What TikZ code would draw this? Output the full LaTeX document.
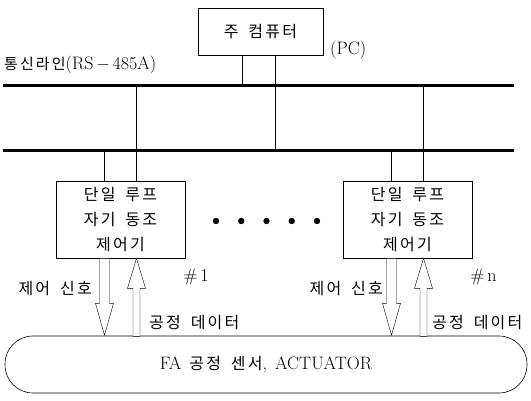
\documentclass[tikz,border=0pt]{standalone}
\usepackage{fontspec}
\newfontfamily\kr[LetterSpace=14, WordSpace=1.7]{Noto Sans CJK KR}
\usetikzlibrary{calc}

\begin{document}
\begin{tikzpicture}[x=1pt,y=-1pt,
        every node/.style={font=\fontsize{18}{22}\selectfont},
        caja/.style={draw, semithick, inner sep=0pt, align=center},
        bus/.style={line width=3pt},
        hueco/.style={draw, fill=white, line join=miter},
        etiq/.style={font=\kr\fontsize{16}{25}\selectfont}]
        % Marco de la figura
        \useasboundingbox (0,0) rectangle (531,400);

        % Computadora principal
        \node[caja, etiq, minimum width=125pt, minimum height=47pt] (pc) at (260.5,31.5) {주 컴퓨터};
        \node[anchor=west, inner sep=0pt] (pclab) at (330,50) {(PC)};

        % Lineas de comunicacion (bus)
        \coordinate (b1w) at (3,85);
        \coordinate (b1e) at (514,85);
        \coordinate (b2w) at (3,150);
        \coordinate (b2e) at (514,150);
        \draw[bus] (b1w) -- (b1e);
        \draw[bus] (b2w) -- (b2e);
        \node[anchor=base west, inner sep=0pt] (buslab) at (4,69) {{\kr\fontsize{15}{15}\selectfont 통신라인}(RS$\,-\,$485A)};

        % Conexiones del PC
        \draw ([xshift=-18.5pt]pc.south) -- ([xshift=-18.5pt]pc.south |- b1w);
        \draw ([xshift=14.5pt]pc.south) -- ([xshift=14.5pt]pc.south |- b2w);

        % Sensores y actuadores
        \node[draw, semithick, rounded corners=28pt, minimum width=522pt, minimum height=57pt, inner sep=0pt] (fa) at (266,364.5)
            {FA\hspace{8pt}{\kr\fontsize{16}{16}\selectfont 공정 센서},\hspace{8pt}ACTUATOR};

        % Controladores
        \foreach \i/\x/\n/\d in {1/120.5/1/-28.5, 2/407.5/n/-24.5} {
            \node[caja, etiq, minimum width=129pt, minimum height=77pt] (ctl\i) at (\x,219.5) {단일 루프\\자기 동조\\제어기};
            \draw ([xshift=-16pt]ctl\i.north) -- ([xshift=-16pt]ctl\i.north |- b2w);
            \draw ([xshift=16pt]ctl\i.north) -- ([xshift=16pt]ctl\i.north |- b1w);
            % Flechas huecas
            \draw[hueco] ([xshift=-21pt]ctl\i.south) -- ++(0,45) -- ++(-4,0) -- ++(9,32) -- ++(9,-32) -- ++(-4,0) -- ++(0,-45) -- cycle;
            \draw[hueco] ([xshift=16pt]ctl\i.south) -- ++(9,30) -- ++(-5.5,0) -- ++(0,48) -- ++(-7,0) -- ++(0,-48) -- ++(-5.5,0) -- cycle;
            % Etiquetas
            \node[etiq, anchor=east, inner sep=0pt] (sig\i) at ($(ctl\i.south)+(\d,30)$) {제어 신호};
            \node[anchor=west, inner sep=0pt] (num\i) at ($(ctl\i.south east)+(-2,19)$) {\#\,\n};
            \node[etiq, anchor=west, inner sep=0pt] (dat\i) at ($(ctl\i.south)+(-\d,64)$) {공정 데이터};
        }

        % Puntos suspensivos
        \foreach \x in {216,241.25,266.5,291.75,317}
            \fill (\x,221) circle (3.2pt);

\end{tikzpicture}
\end{document}
